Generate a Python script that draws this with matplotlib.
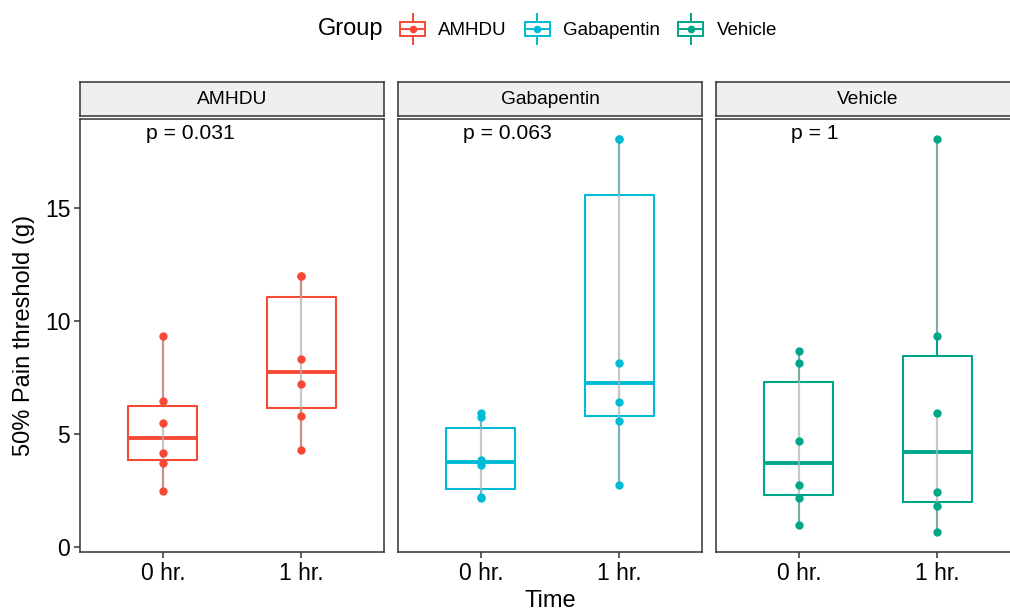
import matplotlib
matplotlib.use('Agg')
import matplotlib.pyplot as plt
from matplotlib.patches import Rectangle
from matplotlib.lines import Line2D
from matplotlib.legend_handler import HandlerBase

plt.rcParams['font.family'] = ['Liberation Sans', 'DejaVu Sans']

# --- data ------------------------------------------------------------------
GROUPS = ['AMHDU', 'Gabapentin', 'Vehicle']
TIMES = ['0 hr.', '1 hr.']
P_LABELS = ['p = 0.031', 'p = 0.063', 'p = 1']

amhdu_0h = [9.31, 6.46, 5.48, 4.15, 3.71, 2.46]
amhdu_1h = [12.0, 12.0, 8.29, 7.21, 5.78, 4.30]
gaba_0h = [5.92, 5.75, 3.86, 3.60, 2.22, 2.18]
gaba_1h = [18.06, 18.06, 8.14, 6.39, 5.58, 2.73]
veh_0h = [8.65, 8.14, 4.68, 2.73, 2.15, 0.95]
veh_1h = [18.06, 9.31, 5.92, 2.44, 1.80, 0.64]

VALUES = {
    'AMHDU': [amhdu_0h, amhdu_1h],
    'Gabapentin': [gaba_0h, gaba_1h],
    'Vehicle': [veh_0h, veh_1h],
}

# grey connecting lines (value ranges) inside each box
GREY_LINES = {
    'AMHDU': [[(2.46, 5.48), (6.46, 9.31)], [(4.30, 12.0)]],
    'Gabapentin': [[(2.18, 5.92)], [(2.73, 18.06)]],
    'Vehicle': [[(0.95, 8.65)], [(0.64, 5.92), (9.31, 18.06)]],
}

# --- styling ----------------------------------------------------------------
COLORS = {'AMHDU': '#F64A36', 'Gabapentin': '#00BBD6', 'Vehicle': '#00A68A'}
W, H = 1010, 611
PANEL_LEFT = [80, 398, 716]
PANEL_W = 304
PANEL_TOP, PANEL_BOTTOM = 119, 552
STRIP_TOP, STRIP_BOTTOM = 82, 116
P_X = [0.88, 0.87, 0.94]
EDGE = '#333333'


class BoxKey(HandlerBase):
    def create_artists(self, legend, orig_handle, xdescent, ydescent,
                       width, height, fontsize, trans):
        c = orig_handle.get_color()
        cx = width / 2 - xdescent
        cy = height / 2 - ydescent
        bw, bh = width * 0.85, height * 0.7
        box = Rectangle((cx - bw / 2, cy - bh / 2), bw, bh, fill=False,
                        edgecolor=c, lw=1.4, transform=trans)
        wl = Line2D([cx, cx], [cy - height * 0.75, cy - bh / 2], color=c,
                    lw=1.4, transform=trans)
        wh = Line2D([cx, cx], [cy + bh / 2, cy + height * 0.75], color=c,
                    lw=1.4, transform=trans)
        med = Line2D([cx - bw / 2, cx + bw / 2], [cy, cy], color=c, lw=1.4,
                     transform=trans)
        dot = Line2D([cx], [cy], marker='o', ms=5.5, color=c, mec='none',
                     transform=trans)
        return [box, wl, wh, med, dot]


fig = plt.figure(figsize=(W / 100, H / 100), dpi=100)

all_vals = [v for g in GROUPS for s in VALUES[g] for v in s]
lo, hi = min(all_vals), max(all_vals)
pad = 0.05 * (hi - lo)

for i, g in enumerate(GROUPS):
    c = COLORS[g]
    ax = fig.add_axes([PANEL_LEFT[i] / W, 1 - PANEL_BOTTOM / H,
                       PANEL_W / W, (PANEL_BOTTOM - PANEL_TOP) / H])
    ax.boxplot(VALUES[g], positions=[1, 2], widths=0.5, whis=1.5,
               showfliers=False, showcaps=False,
               boxprops=dict(color=c, linewidth=1.5),
               whiskerprops=dict(color=c, linewidth=1.5),
               medianprops=dict(color=c, linewidth=2.8),
               zorder=2)
    for j, segs in enumerate(GREY_LINES[g]):
        for a, b in segs:
            ax.plot([j + 1, j + 1], [a, b], color='#B0B0B0', lw=1.6,
                    alpha=0.7, zorder=3, solid_capstyle='butt')
        ax.plot([j + 1] * len(VALUES[g][j]), VALUES[g][j], 'o', color=c,
                ms=6, mec='none', zorder=4)
    ax.text(P_X[i], hi, P_LABELS[i], ha='left', va='baseline', fontsize=15.2)

    ax.set_xlim(0.4, 2.6)
    ax.set_ylim(lo - pad, hi + pad)
    ax.set_xticks([1, 2])
    ax.set_xticklabels(TIMES)
    ax.set_yticks([0, 5, 10, 15])
    for sp in ax.spines.values():
        sp.set_color(EDGE)
        sp.set_linewidth(1.1)
    ax.tick_params(axis='both', labelsize=16.5, color=EDGE, length=4,
                   width=1.1, labelcolor='black', pad=3)
    if i == 0:
        ax.set_ylabel('50% Pain threshold (g)', fontsize=17, labelpad=7)
    else:
        ax.tick_params(axis='y', left=False, labelleft=False)

    sax = fig.add_axes([PANEL_LEFT[i] / W, 1 - STRIP_BOTTOM / H,
                        PANEL_W / W, (STRIP_BOTTOM - STRIP_TOP) / H])
    sax.set_facecolor('#EFEFEF')
    sax.set_xticks([])
    sax.set_yticks([])
    for sp in sax.spines.values():
        sp.set_color(EDGE)
        sp.set_linewidth(1.1)
    sax.text(0.5, 0.5, g, ha='center', va='center', fontsize=13.8,
             transform=sax.transAxes)

fig.text(550 / W, 1 - 601 / H, 'Time', ha='center', va='center', fontsize=17)

fig.text(318 / W, 1 - 29 / H, 'Group', ha='left', va='center', fontsize=17)
handles = [Line2D([], [], color=COLORS[g]) for g in GROUPS]
fig.legend(handles, GROUPS, loc='center left',
           bbox_to_anchor=(398 / W, 1 - 29 / H), ncol=3, frameon=False,
           fontsize=13.5, handler_map={Line2D: BoxKey()},
           handlelength=1.55, handleheight=1.25, handletextpad=0.6,
           columnspacing=0.85, borderpad=0, borderaxespad=0)

fig.savefig('out.png', dpi=100)
